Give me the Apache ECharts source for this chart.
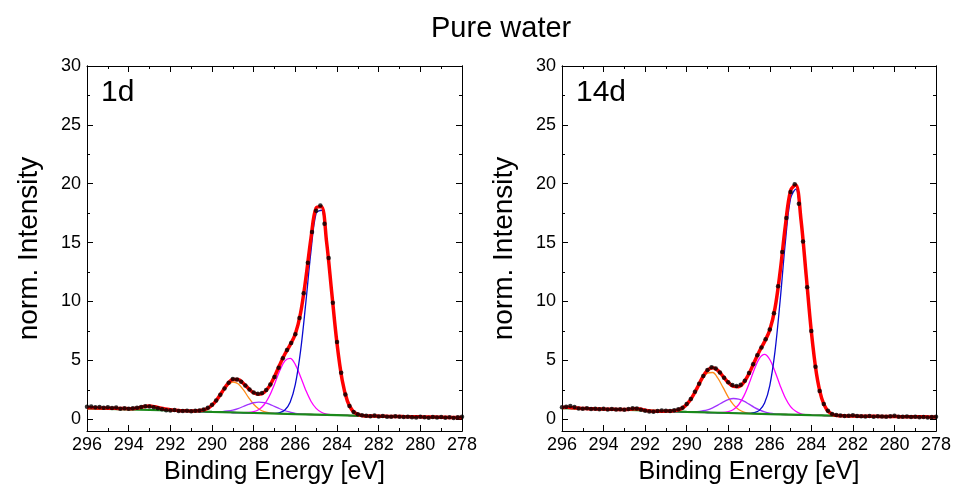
<!DOCTYPE html>
<html>
<head>
<meta charset="utf-8">
<script src="https://cdn.jsdelivr.net/npm/echarts@6/dist/echarts.min.js"></script>
<style>
html, body { margin: 0; padding: 0; background: #fff; }
#main { width: 956px; height: 492px; }
</style>
</head>
<body>
<div id="main"></div>
<script>
// energy grids [eV], high to low
function grid(from, to, step) {
    var n = Math.round((from - to) / step), out = [];
    for (var i = 0; i <= n; i++) out.push(+(from - i * step).toFixed(2));
    return out;
}
var fitE = grid(296, 278, 0.25);   // red envelope
var compE = grid(291, 283, 0.25);  // fitted components
var dataE = grid(296, 278, 0.2);   // measured points
var bgE = [296, 294, 292, 290, 288, 286, 284, 282, 280, 278];

var panels = ['1d', '14d'];
var yMajor = [0, 5, 10, 15, 20, 25, 30];
var yMinor = [2.5, 7.5, 12.5, 17.5, 22.5, 27.5];

// ---- 1d ----
var data1d = [
    1.05, 1.08, 1.02, 1.04, 0.98, 1.01, 0.95, 0.99, 0.90, 0.93,
    0.88, 0.94, 0.97, 1.04, 1.10, 1.08, 1.02, 0.93, 0.84, 0.76,
    0.74, 0.78, 0.70, 0.69, 0.73, 0.68, 0.72, 0.74, 0.82, 0.98,
    1.22, 1.58, 2.08, 2.62, 3.10, 3.42, 3.38, 3.18, 2.86, 2.52,
    2.28, 2.16, 2.22, 2.48, 2.94, 3.58, 4.38, 5.18, 5.88, 6.48,
    7.22, 8.60, 10.70, 13.30, 15.90, 17.70, 18.15, 16.60, 13.70, 9.90,
    6.55, 3.95, 2.10, 1.12, 0.62, 0.42, 0.33, 0.30, 0.25, 0.31,
    0.24, 0.27, 0.22, 0.20, 0.26, 0.21, 0.18, 0.22, 0.17, 0.15,
    0.20, 0.16, 0.12, 0.18, 0.14, 0.19, 0.13, 0.17, 0.11, 0.16,
    0.20
];
var fit1d = [
    0.98, 0.97, 0.96, 0.95, 0.94, 0.93, 0.92, 0.91, 0.90, 0.92,
    0.98, 1.08, 1.12, 1.06, 0.95, 0.86, 0.80, 0.76, 0.73, 0.71,
    0.70, 0.72, 0.76, 0.89, 1.19, 1.70, 2.36, 2.99, 3.37, 3.37,
    3.05, 2.61, 2.25, 2.12, 2.28, 2.79, 3.62, 4.62, 5.54, 6.31,
    7.24, 9.00, 11.91, 15.38, 17.95, 18.05, 15.06, 10.71, 6.43, 3.31,
    1.54, 0.71, 0.41,
    0.30, 0.28, 0.27, 0.26, 0.25, 0.24, 0.24, 0.23, 0.22, 0.21,
    0.21, 0.20, 0.19, 0.18, 0.18, 0.17, 0.16, 0.15, 0.15, 0.14
];
var blue1d = [
    0.67, 0.66, 0.65, 0.63, 0.62, 0.61, 0.60, 0.59, 0.57, 0.56,
    0.55, 0.54, 0.53, 0.52, 0.50, 0.49, 0.50, 0.56, 0.79, 1.45,
    2.96, 5.78, 9.84, 14.25, 17.50, 17.75, 14.99, 10.69, 6.43, 3.31,
    1.54, 0.71, 0.41
];
var magenta1d = [
    0.67, 0.66, 0.65, 0.63, 0.62, 0.61, 0.60, 0.59, 0.57, 0.56,
    0.56, 0.57, 0.64, 0.83, 1.23, 1.95, 2.98, 4.11, 4.95, 5.16,
    4.64, 3.61, 2.47, 1.53, 0.92, 0.59, 0.43, 0.37, 0.34, 0.33,
    0.32, 0.30, 0.29
];
var purple1d = [
    0.67, 0.66, 0.65, 0.63, 0.63, 0.63, 0.65, 0.70, 0.78, 0.91,
    1.08, 1.26, 1.40, 1.46, 1.41, 1.28, 1.09, 0.89, 0.72, 0.60,
    0.50, 0.45, 0.42, 0.40, 0.39, 0.38, 0.36, 0.35, 0.34, 0.33,
    0.32, 0.30, 0.29
];
var orange1d = [
    0.68, 0.69, 0.74, 0.88, 1.18, 1.68, 2.31, 2.88, 3.16, 3.02,
    2.51, 1.86, 1.27, 0.87, 0.64, 0.54, 0.49, 0.47, 0.46, 0.45,
    0.43, 0.42, 0.41, 0.40, 0.39, 0.38, 0.36, 0.35, 0.34, 0.33,
    0.32, 0.30, 0.29
];
var bg1d = [0.92, 0.84, 0.74, 0.62, 0.53, 0.43, 0.34, 0.25, 0.19, 0.13];

// ---- 14d ----
var data14d = [
    1.02, 1.05, 1.12, 1.04, 0.92, 0.90, 0.93, 0.87, 0.90, 0.85,
    0.88, 0.83, 0.86, 0.82, 0.85, 0.80, 0.86, 0.94, 0.92, 0.80,
    0.72, 0.66, 0.64, 0.70, 0.74, 0.72, 0.69, 0.76, 0.84, 0.98,
    1.30, 1.72, 2.34, 3.02, 3.68, 4.18, 4.42, 4.30, 3.96, 3.52,
    3.14, 2.90, 2.82, 2.92, 3.26, 3.92, 4.66, 5.44, 6.10, 6.80,
    7.62, 9.00, 11.30, 14.20, 17.10, 19.30, 19.95, 18.30, 15.10, 11.20,
    7.50, 4.45, 2.40, 1.30, 0.72, 0.45, 0.36, 0.32, 0.27, 0.30,
    0.34, 0.28, 0.26, 0.24, 0.27, 0.22, 0.25, 0.23, 0.21, 0.26,
    0.30, 0.22, 0.20, 0.23, 0.18, 0.21, 0.16, 0.19, 0.15, 0.18,
    0.20
];
var fit14d = [
    1.00, 1.02, 0.98, 0.95, 0.92, 0.90, 0.88, 0.87, 0.86, 0.85,
    0.84, 0.83, 0.82, 0.84, 0.90, 0.86, 0.76, 0.70, 0.68, 0.68,
    0.69, 0.70, 0.75, 0.90, 1.25, 1.83, 2.64, 3.51, 4.15, 4.38,
    4.15, 3.64, 3.12, 2.79, 2.76, 3.13, 3.87, 4.83, 5.78, 6.59,
    7.58, 9.41, 12.54, 16.43, 19.42, 19.90, 16.99, 12.26, 7.44, 3.84,
    1.77, 0.79, 0.43,
    0.31, 0.29, 0.28, 0.27, 0.26, 0.26, 0.25, 0.25, 0.24, 0.24,
    0.23, 0.23, 0.22, 0.22, 0.21, 0.21, 0.20, 0.20, 0.19, 0.19
];
var blue14d = [
    0.67, 0.66, 0.65, 0.63, 0.62, 0.61, 0.60, 0.59, 0.57, 0.56,
    0.55, 0.54, 0.53, 0.52, 0.50, 0.49, 0.50, 0.55, 0.75, 1.37,
    2.86, 5.74, 10.09, 15.03, 18.74, 19.55, 16.89, 12.23, 7.43, 3.84,
    1.77, 0.79, 0.43
];
var magenta14d = [
    0.67, 0.66, 0.65, 0.63, 0.62, 0.61, 0.60, 0.59, 0.57, 0.56,
    0.56, 0.57, 0.64, 0.83, 1.23, 1.96, 3.01, 4.20, 5.16, 5.50,
    5.07, 4.06, 2.85, 1.80, 1.07, 0.67, 0.46, 0.38, 0.35, 0.33,
    0.32, 0.30, 0.29
];
var purple14d = [
    0.67, 0.66, 0.65, 0.63, 0.63, 0.63, 0.65, 0.71, 0.80, 0.97,
    1.20, 1.45, 1.66, 1.76, 1.71, 1.54, 1.28, 1.01, 0.79, 0.62,
    0.51, 0.45, 0.42, 0.40, 0.39, 0.38, 0.36, 0.35, 0.34, 0.33,
    0.32, 0.30, 0.29
];
var orange14d = [
    0.68, 0.69, 0.75, 0.90, 1.24, 1.81, 2.59, 3.39, 3.92, 3.97,
    3.49, 2.70, 1.88, 1.24, 0.82, 0.61, 0.52, 0.48, 0.46, 0.45,
    0.43, 0.42, 0.41, 0.40, 0.39, 0.38, 0.36, 0.35, 0.34, 0.33,
    0.32, 0.30, 0.29
];
var bg14d = [0.95, 0.86, 0.74, 0.62, 0.53, 0.43, 0.34, 0.27, 0.23, 0.19];

var sets = [
    {data: data1d, fit: fit1d, blue: blue1d, magenta: magenta1d, purple: purple1d, orange: orange1d, bg: bg1d},
    {data: data14d, fit: fit14d, blue: blue14d, magenta: magenta14d, purple: purple14d, orange: orange14d, bg: bg14d}
];

function pairs(xs, ys) {
    return xs.map(function (x, i) { return [x, ys[i]]; });
}

var font = 'Liberation Sans, Arial, sans-serif';
var grids = [
    {left: 87, right: 494, top: 66, bottom: 61, outerBoundsMode: 'none'},
    {left: 562, right: 20, top: 66, bottom: 61, outerBoundsMode: 'none'}
];
var xAxes = [], yAxes = [], series = [], graphics = [];

grids.forEach(function (g, gi) {
    var xBase = {
        gridIndex: gi, type: 'value', min: 278, max: 296, interval: 2, inverse: true,
        axisLine: {show: true, onZero: false, lineStyle: {color: '#000', width: 1}},
        axisTick: {show: true, inside: true, length: 6, lineStyle: {color: '#000'}},
        minorTick: {show: true, splitNumber: 2, length: 3, lineStyle: {color: '#000'}},
        splitLine: {show: false}
    };
    xAxes.push(Object.assign({}, xBase, {
        position: 'bottom',
        axisLabel: {fontSize: 18, color: '#000', margin: 5, fontFamily: font},
        name: 'Binding Energy [eV]', nameLocation: 'middle', nameGap: 29,
        nameTextStyle: {fontSize: 25, color: '#000', fontFamily: font}
    }));
    xAxes.push(Object.assign({}, xBase, {position: 'top', axisLabel: {show: false}}));

    var yBase = {
        gridIndex: gi, type: 'value', min: -1, max: 30,
        axisLine: {show: true, onZero: false, lineStyle: {color: '#000', width: 1}},
        splitLine: {show: false}
    };
    var base = yAxes.length;
    yAxes.push(Object.assign({}, yBase, {
        position: 'left',
        axisTick: {inside: true, length: 6, customValues: yMajor, lineStyle: {color: '#000'}},
        axisLabel: {customValues: yMajor, fontSize: 18, color: '#000', margin: 6, fontFamily: font},
        name: 'norm. Intensity', nameLocation: 'middle', nameGap: 44, nameRotate: 90,
        nameTextStyle: {fontSize: 28, color: '#000', fontFamily: font}
    }));
    yAxes.push(Object.assign({}, yBase, {
        position: 'left',
        axisTick: {inside: true, length: 3, customValues: yMinor, lineStyle: {color: '#000'}},
        axisLabel: {show: false}
    }));
    yAxes.push(Object.assign({}, yBase, {
        position: 'right',
        axisTick: {inside: true, length: 6, customValues: yMajor, lineStyle: {color: '#000'}},
        axisLabel: {show: false}
    }));
    yAxes.push(Object.assign({}, yBase, {
        position: 'right',
        axisTick: {inside: true, length: 3, customValues: yMinor, lineStyle: {color: '#000'}},
        axisLabel: {show: false}
    }));

    var s = sets[gi];
    var common = {xAxisIndex: gi * 2, yAxisIndex: base, type: 'line', showSymbol: false, silent: true, animation: false};
    [['orange', '#ff8c1a'], ['purple', '#a033ff'], ['magenta', '#ff00ff'], ['blue', '#0a0ad0']].forEach(function (c) {
        series.push(Object.assign({}, common, {
            data: pairs(compE, s[c[0]]), smooth: 0.35,
            lineStyle: {color: c[1], width: 1.3}, z: 3
        }));
    });
    series.push(Object.assign({}, common, {
        data: pairs(bgE, s.bg), lineStyle: {color: '#1a8a1a', width: 2.2}, z: 4
    }));
    series.push(Object.assign({}, common, {
        data: pairs(fitE, s.fit), smooth: 0.35,
        lineStyle: {color: '#ff0000', width: 3.5}, z: 5
    }));
    series.push(Object.assign({}, common, {
        type: 'scatter', data: pairs(dataE, s.data), symbol: 'circle', symbolSize: 4.5,
        itemStyle: {color: '#000'}, z: 6
    }));

    graphics.push({
        type: 'text', left: g.left + 14, top: 78,
        style: {text: panels[gi], fontSize: 30, fill: '#000', fontFamily: font}
    });
});

var chart = echarts.init(document.getElementById('main'), null, {renderer: 'canvas'});
chart.setOption({
    backgroundColor: '#fff',
    animation: false,
    title: {
        text: 'Pure water', left: 426, top: 9,
        textStyle: {fontSize: 29, fontWeight: 'normal', color: '#000', fontFamily: font}
    },
    grid: grids,
    xAxis: xAxes,
    yAxis: yAxes,
    series: series,
    graphic: graphics
});
</script>
</body>
</html>
